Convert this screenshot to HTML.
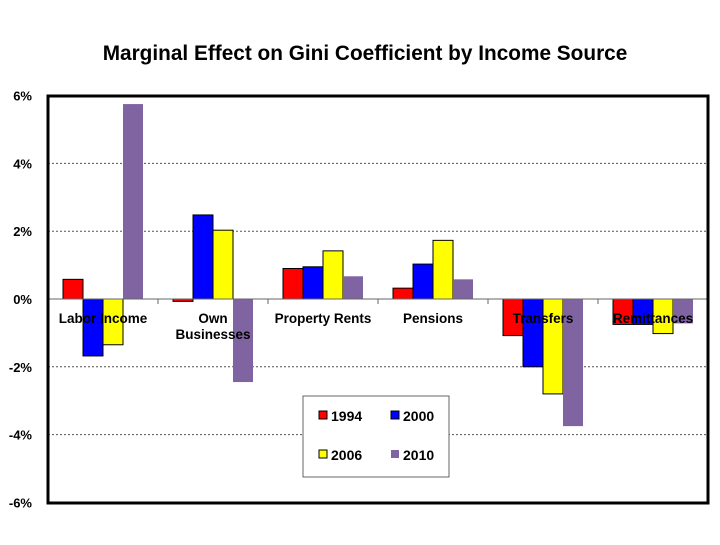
<!DOCTYPE html>
<html><head><meta charset="utf-8"><style>
body{margin:0;background:#fff;font-family:"Liberation Sans",Arial,sans-serif}
svg text{font-family:"Liberation Sans",Arial,sans-serif}
</style></head><body>
<svg id="c" width="720" height="540">
<text x="365" y="60" text-anchor="middle" font-size="20.8" font-weight="bold">Marginal Effect on Gini Coefficient by Income Source</text>
<g id="grid"></g><g id="bars"></g><g id="axes"></g>
</svg>
<script>
const categories=["Labor Income","Own|Businesses","Property Rents","Pensions","Transfers","Remittances"];
const years=["1994","2000","2006","2010"];
const s1994=[0.58,-0.07,0.90,0.32,-1.08,-0.75];
const s2000=[-1.68,2.48,0.95,1.03,-2.00,-0.75];
const s2006=[-1.35,2.03,1.42,1.73,-2.80,-1.02];
const s2010=[5.75,-2.45,0.67,0.58,-3.75,-0.72];
const yTicks=[6,4,2,0,-2,-4,-6];
const series=[s1994,s2000,s2006,s2010];
const colors=["#ff0000","#0000ff","#ffff00","#8064a2"];
const NS="http://www.w3.org/2000/svg";
const L=48,R=708,T=96,B=503;
const y=v=>299-v*33.9;
const gw=(R-L)/categories.length;
const x=i=>L+gw*(i+0.5);
function mk(tag,a,p){const e=document.createElementNS(NS,tag);for(const k in a)e.setAttribute(k,a[k]);p.appendChild(e);return e;}
const grid=document.getElementById('grid'),bars=document.getElementById('bars'),axes=document.getElementById('axes');
yTicks.forEach(t=>{
 if(t!==0&&t!==6&&t!==-6){const g=mk('line',{x1:L,x2:R,y1:y(t),y2:y(t),stroke:'#555','stroke-dasharray':'2,2','stroke-width':1},grid);
 
 }
 const tx=mk('text',{x:32,y:y(t)+5,'text-anchor':'end','font-size':13,'font-weight':'bold'},axes);tx.textContent=t+'%';
 
 
});
series.forEach((s,j)=>s.forEach((v,i)=>{
 const bx=x(i)-40+j*20;const y0=y(Math.max(v,0)),h=Math.abs(y(v)-y(0));
 const r=mk('rect',{x:bx,y:y0,width:20,height:h,fill:colors[j],stroke:j===3?'none':'#000','stroke-width':1},bars);
 
 
}));
const zl=mk('line',{x1:L,x2:R,y1:y(0),y2:y(0),stroke:'#666','stroke-width':1},axes);


for(let i=1;i<categories.length;i++){const tk=mk('line',{x1:L+gw*i,x2:L+gw*i,y1:y(0),y2:y(0)+5,stroke:'#666'},axes);
 
 }
categories.forEach((c,i)=>{c.split('|').forEach((ln,k)=>{const t=mk('text',{x:x(i),y:323+k*16,'text-anchor':'middle','font-size':13.5,'font-weight':'bold'},axes);t.textContent=ln;
 
 });});
const fr=mk('rect',{x:L,y:T,width:R-L,height:B-T,fill:'none',stroke:'#000','stroke-width':3},axes);


const lg=mk('g',{},axes);


mk('rect',{x:303,y:396,width:146,height:81,fill:'#fff',stroke:'#666'},lg);
years.forEach((yr,j)=>{const lx=319+(j%2)*72,ly=416+Math.floor(j/2)*39;
 const sw=mk('rect',{x:lx,y:ly-5,width:8,height:8,fill:colors[j],stroke:j===3?'none':'#000'},lg);
 
 
 const t=mk('text',{x:lx+12,y:ly+5,'font-size':14,'font-weight':'bold'},lg);t.textContent=yr;
 
 });
</script>
</body></html>
